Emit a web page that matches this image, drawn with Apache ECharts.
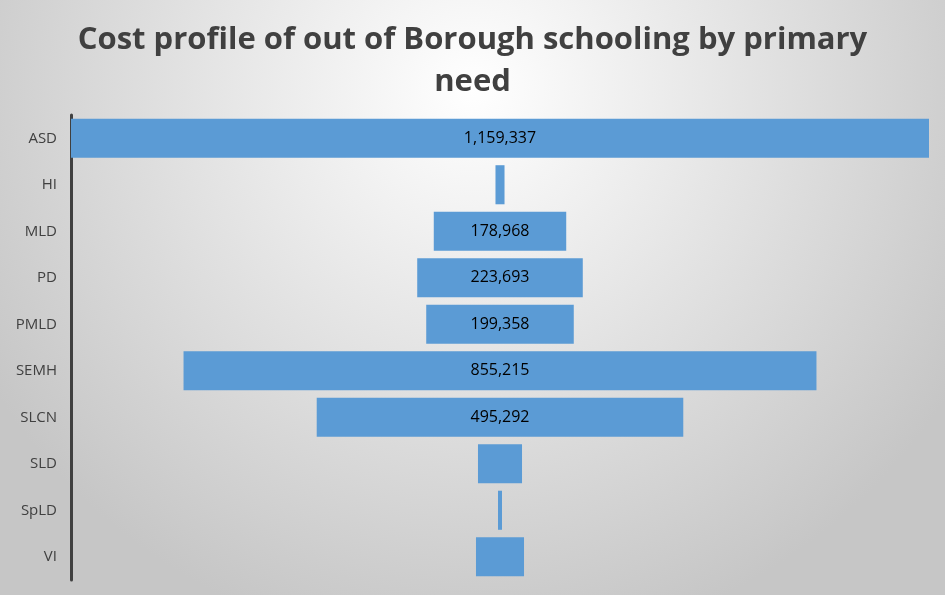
<!DOCTYPE html>
<html><head><meta charset="utf-8">
<script src="https://cdn.jsdelivr.net/npm/echarts@6/dist/echarts.min.js"></script>
<style>html,body{margin:0;padding:0;}#c{width:945px;height:595px;}</style>
</head><body><div id="c"></div>
<script>
var categories = ['ASD','HI','MLD','PD','PMLD','SEMH','SLCN','SLD','SpLD','VI'];
var costs = [1159337, 12200, 178968, 223693, 199358, 855215, 495292, 59500, 5400, 64900];
var maxCost = Math.max.apply(null, costs);
var offsets = costs.map(function(v){ return (maxCost - v) / 2; });
var chart = echarts.init(document.getElementById('c'));
chart.setOption({
  backgroundColor: {type:'radial', x:0.5, y:0.15, r:0.95, colorStops:[{offset:0,color:'#ffffff'},{offset:1,color:'#c6c6c6'}]},
  title: {
    text: 'Cost profile of out of Borough schooling by primary\nneed',
    left: 'center', top: 14,
    textStyle: {fontFamily:'Open Sans', fontWeight:'bold', fontSize:31, color:'#404040', lineHeight:42}
  },
  grid: {left:71, right:16, top:115, bottom:15},
  xAxis: {type:'value', min:0, max:maxCost, show:false},
  yAxis: {
    type:'category', data:categories, inverse:true,
    axisLine:{lineStyle:{color:'#404040', width:3}},
    axisTick:{show:false},
    axisLabel:{fontFamily:'Open Sans', fontSize:15, color:'#404040', margin:14}
  },
  series: [
    {type:'bar', stack:'f', data:offsets, itemStyle:{color:'transparent'}, barCategoryGap:'16%', silent:true},
    {type:'bar', stack:'f', data:costs, itemStyle:{color:'#5b9bd5'}, barCategoryGap:'16%',
     label:{show:true, position:'inside', fontFamily:'Open Sans', fontSize:16, color:'#000',
       formatter:function(p){ return p.value > 100000 ? p.value.toLocaleString('en-US') : ''; }}}
  ]
});
</script></body></html>
